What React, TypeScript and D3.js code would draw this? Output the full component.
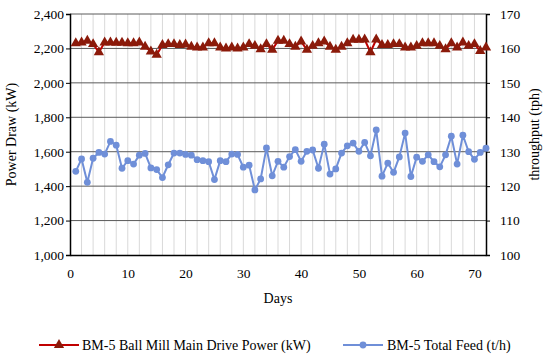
import React, { useEffect, useRef } from 'react';
import * as d3 from 'd3';

// BM-5 daily values (day 1 .. 72)
const powerKW = [
	2230, 2235, 2245, 2225, 2178, 2235, 2235, 2233, 2233, 2230,
	2230, 2235, 2210, 2182, 2163, 2220, 2225, 2225, 2220, 2223,
	2210, 2205, 2205, 2230, 2230, 2205, 2200, 2205, 2200, 2205,
	2225, 2215, 2195, 2225, 2192, 2245, 2245, 2225, 2210, 2240,
	2192, 2215, 2230, 2240, 2210, 2192, 2210, 2230, 2250, 2250,
	2252, 2178, 2252, 2220, 2220, 2225, 2225, 2205, 2205, 2215,
	2230, 2230, 2230, 2215, 2195, 2230, 2205, 2235, 2215, 2225,
	2185, 2205
];

const feedTph = [
	124.3, 127.9, 121.1, 128.1, 129.8, 129.3, 133.0, 131.9, 125.2, 127.4,
	126.4, 129.0, 129.5, 125.3, 124.8, 122.5, 126.2, 129.6, 129.6, 129.2,
	129.0, 127.7, 127.4, 127.1, 121.9, 127.4, 127.1, 129.3, 129.2, 125.5,
	126.1, 118.9, 122.1, 131.1, 123.0, 127.2, 125.5, 128.6, 130.6, 127.2,
	130.1, 130.5, 125.2, 132.2, 123.5, 125.0, 129.6, 131.7, 132.5, 130.1,
	132.7, 128.8, 136.3, 122.9, 126.7, 124.0, 128.5, 135.4, 122.8, 128.4,
	127.2, 129.1, 127.1, 125.6, 129.1, 134.5, 126.4, 134.8, 130.0, 127.8,
	129.8, 131.0
];

const leftTicks = [1000, 1200, 1400, 1600, 1800, 2000, 2200, 2400];
const rightTicks = [100, 110, 120, 130, 140, 150, 160, 170];
const dayTicks = [0, 10, 20, 30, 40, 50, 60, 70];

const POWER_LABEL = 'BM-5 Ball Mill Main Drive Power (kW)';
const FEED_LABEL = 'BM-5 Total Feed (t/h)';

const FONT = '"Liberation Serif", "Times New Roman", serif';
const RED_LINE = '#c00000';
const RED_MARK = '#8b1a0a';
const BLUE = '#6f8fd8';

function App() {
	const ref = useRef(null);

	useEffect(() => {
		const svg = d3.select(ref.current);
		svg.selectAll('*').remove();

		const margin = { left: 70, top: 14, right: 64, bottom: 104 };
		const width = 550, height = 359;
		const innerW = width - margin.left - margin.right;
		const innerH = height - margin.top - margin.bottom;

		const x = d3.scaleLinear().domain([0, 72]).range([0, innerW]);
		const yL = d3.scaleLinear().domain([1000, 2400]).range([innerH, 0]);
		const yR = d3.scaleLinear().domain([100, 170]).range([innerH, 0]);

		const g = svg.append('g')
			.attr('transform', 'translate(' + margin.left + ',' + margin.top + ')');

		// minor vertical gridlines every 2 days
		g.append('g').selectAll('line')
			.data(d3.range(2, 72, 2))
			.join('line')
			.attr('x1', d => x(d)).attr('x2', d => x(d))
			.attr('y1', 0).attr('y2', innerH)
			.attr('stroke', '#d9d9d9').attr('stroke-width', 1);

		// major horizontal gridlines
		g.append('g').selectAll('line')
			.data(leftTicks.slice(1))
			.join('line')
			.attr('x1', 0).attr('x2', innerW)
			.attr('y1', d => yL(d)).attr('y2', d => yL(d))
			.attr('stroke', '#5a5a5a').attr('stroke-width', 1);

		// axes
		const yAxisL = d3.axisLeft(yL).tickValues(leftTicks).tickSize(4)
			.tickFormat(d3.format(','));
		const yAxisR = d3.axisRight(yR).tickValues(rightTicks).tickSize(4);
		const xAxis = d3.axisBottom(x).tickValues(dayTicks).tickSize(0);

		const styleAxis = sel => {
			sel.select('.domain').attr('stroke', '#000').attr('stroke-width', 1.5);
			sel.selectAll('.tick line').attr('stroke', '#000');
			sel.selectAll('text')
				.attr('font-family', FONT).attr('font-size', 13.5).attr('fill', '#000');
		};

		g.append('g').call(yAxisL).call(styleAxis)
			.selectAll('text').attr('x', -6);
		g.append('g').attr('transform', 'translate(' + innerW + ',0)')
			.call(yAxisR).call(styleAxis)
			.selectAll('text').attr('x', 14);
		g.append('g').attr('transform', 'translate(0,' + innerH + ')')
			.call(xAxis).call(styleAxis)
			.selectAll('text').attr('y', 13);

		// axis titles
		svg.append('text')
			.attr('transform', 'translate(16,' + (margin.top + innerH / 2) + ') rotate(-90)')
			.attr('text-anchor', 'middle')
			.attr('font-family', FONT).attr('font-size', 14)
			.text('Power Draw (kW)');
		svg.append('text')
			.attr('transform', 'translate(539,' + (margin.top + innerH / 2) + ') rotate(-90)')
			.attr('text-anchor', 'middle')
			.attr('font-family', FONT).attr('font-size', 14)
			.text('throughput (tph)');
		svg.append('text')
			.attr('x', margin.left + x(36)).attr('y', 303)
			.attr('text-anchor', 'middle')
			.attr('font-family', FONT).attr('font-size', 14)
			.text('Days');

		// power series
		const powerLine = d3.line()
			.x((d, i) => x(i + 1))
			.y(d => yL(d));
		g.append('path')
			.attr('d', powerLine(powerKW))
			.attr('fill', 'none')
			.attr('stroke', RED_LINE).attr('stroke-width', 2);
		const tri = d3.symbol().type(d3.symbolTriangle).size(46);
		g.append('g').selectAll('path')
			.data(powerKW)
			.join('path')
			.attr('d', tri)
			.attr('transform', (d, i) => 'translate(' + x(i + 1) + ',' + yL(d) + ')')
			.attr('fill', RED_MARK);

		// feed series (secondary axis)
		const feedLine = d3.line()
			.x((d, i) => x(i + 1))
			.y(d => yR(d));
		g.append('path')
			.attr('d', feedLine(feedTph))
			.attr('fill', 'none')
			.attr('stroke', BLUE).attr('stroke-width', 2);
		g.append('g').selectAll('circle')
			.data(feedTph)
			.join('circle')
			.attr('cx', (d, i) => x(i + 1))
			.attr('cy', d => yR(d))
			.attr('r', 3.4)
			.attr('fill', BLUE);

		// legend
		const legend = svg.append('g').attr('transform', 'translate(0,345)');
		legend.append('line')
			.attr('x1', 39).attr('x2', 79).attr('y1', 0).attr('y2', 0)
			.attr('stroke', RED_LINE).attr('stroke-width', 2);
		legend.append('path').attr('d', tri)
			.attr('transform', 'translate(59,0)').attr('fill', RED_MARK);
		legend.append('text')
			.attr('x', 82).attr('y', 4.5)
			.attr('font-family', FONT).attr('font-size', 14)
			.text(POWER_LABEL);
		legend.append('line')
			.attr('x1', 343).attr('x2', 383).attr('y1', 0).attr('y2', 0)
			.attr('stroke', BLUE).attr('stroke-width', 2);
		legend.append('circle')
			.attr('cx', 363).attr('cy', 0).attr('r', 3.4).attr('fill', BLUE);
		legend.append('text')
			.attr('x', 387).attr('y', 4.5)
			.attr('font-family', FONT).attr('font-size', 14)
			.text(FEED_LABEL);
	}, []);

	return (
		<svg
			ref={ref}
			width={550}
			height={359}
			style={{ position: 'absolute', left: 0, top: 0, background: '#fff' }}
		/>
	);
}

export default App;
